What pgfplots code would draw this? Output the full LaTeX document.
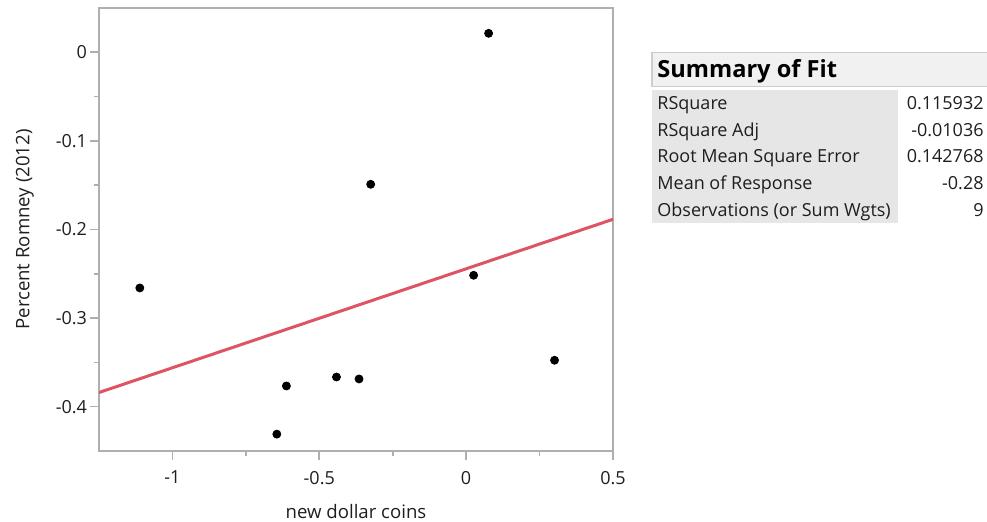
\documentclass[border=0pt]{standalone}
\usepackage{fontspec}
\setmainfont{Open Sans}
\usepackage{pgfplots}
\pgfplotsset{compat=1.18}
\definecolor{axgray}{RGB}{175,175,175}
\definecolor{fitred}{RGB}{222,84,100}
\definecolor{hdrfill}{RGB}{241,241,241}
\definecolor{hdrborder}{RGB}{205,205,205}
\definecolor{rowfill}{RGB}{230,230,230}
\definecolor{txt}{RGB}{30,30,30}
\newcommand{\tf}{\fontsize{9}{11}\selectfont}
\newcommand{\lf}{\fontsize{9.3}{11}\selectfont}
\begin{document}
\begin{tikzpicture}
\path[use as bounding box] (0,0) rectangle (493.5pt,261pt);
\begin{axis}[
  at={(49.5pt,35.5pt)}, anchor=south west, scale only axis,
  width=257pt, height=221.5pt,
  xmin=-1.25, xmax=0.5, ymin=-0.45, ymax=0.05,
  xtick={-1,-0.5,0,0.5}, ytick={-0.4,-0.3,-0.2,-0.1,0},
  minor x tick num=1, minor y tick num=1,
  tick align=outside, major tick length=4.5pt, minor tick length=2.5pt,
  xtick pos=bottom, ytick pos=left,
  axis line style={axgray, line width=0.8pt},
  tick style={axgray, line width=0.8pt},
  ticklabel style={font=\tf, text=txt},
  xticklabel style={yshift=-2pt},
  yticklabel style={xshift=2pt},
  /pgf/number format/assume math mode=true,
  xlabel={new dollar coins}, ylabel={Percent Romney (2012)},
  every axis x label/.style={at={(axis description cs:0.5,-0.1377)}, anchor=center, font=\lf, text=txt},
  every axis y label/.style={at={(axis description cs:-0.144,0.5)}, rotate=90, anchor=center, font=\lf, text=txt},
]
\addplot[fitred, line width=1.5pt] coordinates {(-1.25,-0.384) (0.5,-0.1885)};
\addplot[only marks, mark=*, mark size=2pt, black] coordinates {
(-1.111,-0.266)
(0.0765,0.0214)
(-0.325,-0.149)
(0.0255,-0.2517)
(0.301,-0.3476)
(-0.612,-0.3766)
(-0.4415,-0.3665)
(-0.3646,-0.3687)
(-0.6446,-0.431)
};
\end{axis}
\fill[hdrfill] (326pt,217.6pt) rectangle (493.5pt,234.6pt);
\draw[hdrborder, line width=0.7pt] (493.5pt,234.6pt) -- (326pt,234.6pt) -- (326pt,217.6pt) -- (493.5pt,217.6pt);
\fill[rowfill] (326pt,149.5pt) rectangle (449pt,216pt);
\node[anchor=base west, inner sep=0, text=black] at (328.5pt,222.3pt) {\fontsize{11.8}{13}\selectfont\bfseries Summary of Fit};
\node[anchor=base west, inner sep=0, text=txt] at (328.5pt,206pt) {\tf RSquare};
\node[anchor=base west, inner sep=0, text=txt] at (328.5pt,192.5pt) {\tf RSquare Adj};
\node[anchor=base west, inner sep=0, text=txt] at (328.5pt,179.5pt) {\tf Root Mean Square Error};
\node[anchor=base west, inner sep=0, text=txt] at (328.5pt,166pt) {\tf Mean of Response};
\node[anchor=base west, inner sep=0, text=txt] at (328.5pt,152.5pt) {\tf Observations (or Sum Wgts)};
\node[anchor=base east, inner sep=0, text=txt] at (492pt,206pt) {\tf 0.115932};
\node[anchor=base east, inner sep=0, text=txt] at (492pt,192.5pt) {\tf -0.01036};
\node[anchor=base east, inner sep=0, text=txt] at (492pt,179.5pt) {\tf 0.142768};
\node[anchor=base east, inner sep=0, text=txt] at (492pt,166pt) {\tf -0.28};
\node[anchor=base east, inner sep=0, text=txt] at (492pt,152.5pt) {\tf 9};
\end{tikzpicture}
\end{document}
